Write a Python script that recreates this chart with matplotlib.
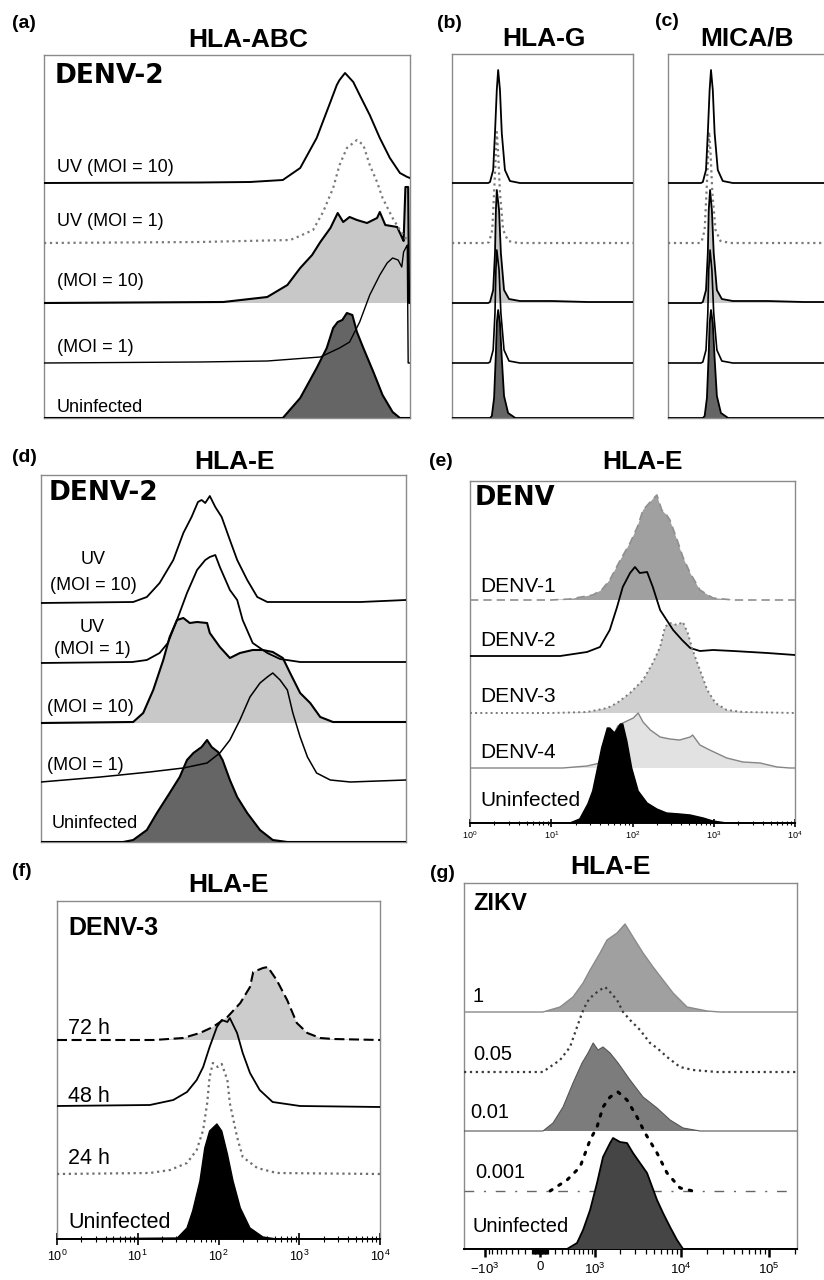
import numpy as np
import matplotlib
matplotlib.use("Agg")
import matplotlib.pyplot as plt
from matplotlib.ticker import (LogLocator, LogFormatterSciNotation, NullFormatter,
                               FixedLocator, FixedFormatter, NullLocator)

# ======================= DATA =======================
# x = log10 fluorescence intensity, h = normalised cell counts (arbitrary units)

# (a) HLA-ABC, DENV-2
a_uninf_x = [0, 2.61, 2.80, 2.98, 3.09, 3.16, 3.21, 3.26, 3.31, 3.37, 3.42, 3.49, 3.60, 3.70, 3.81, 3.89, 4.0]
a_uninf_h = [0, 0, 20, 50, 70, 90, 96, 98, 105, 103, 86, 70, 46, 23, 6, 0, 0]
a_moi1_x = [0, 1.70, 2.44, 3.02, 3.23, 3.34, 3.45, 3.56, 3.67, 3.75, 3.81, 3.87, 3.91, 3.93, 3.97, 3.98, 4.0]
a_moi1_h = [0, 1, 2, 6, 15, 21, 41, 68, 88, 100, 105, 103, 96, 111, 118, 0, 0]
a_moi10_x = [0, 1.96, 2.44, 2.66, 2.80, 2.93, 3.02, 3.13, 3.21, 3.27, 3.34, 3.42, 3.53, 3.64, 3.67, 3.73, 3.86, 3.91, 3.93, 3.95, 3.98, 3.99, 4.0]
a_moi10_h = [0, 1, 6, 18, 35, 48, 61, 75, 90, 81, 86, 83, 80, 85, 91, 78, 76, 66, 62, 116, 116, 0, 0]
a_uv1_x = [0, 1.70, 2.69, 2.77, 2.94, 3.05, 3.16, 3.23, 3.31, 3.42, 3.49, 3.56, 3.64, 3.70, 3.81, 3.89, 3.95, 4.0]
a_uv1_h = [0, 1, 3, 6, 13, 31, 55, 78, 95, 103, 98, 78, 61, 45, 25, 13, 5, 3]
a_uv10_x = [0, 1.70, 2.25, 2.61, 2.80, 2.98, 3.13, 3.20, 3.23, 3.29, 3.38, 3.45, 3.56, 3.67, 3.78, 3.89, 3.97, 4.0]
a_uv10_h = [0, 0.5, 1, 3, 15, 45, 81, 98, 103, 110, 101, 88, 68, 45, 25, 10, 6, 5]
a_labels = ["Uninfected", "(MOI = 1)", "(MOI = 10)", "UV (MOI = 1)", "UV (MOI = 10)"]

# (b) HLA-G
b_uninf_x = [0, 0.84, 0.88, 0.93, 0.97, 0.99, 1.02, 1.06, 1.10, 1.15, 1.24, 1.40, 4.0]
b_uninf_h = [0, 0, 2, 20, 65, 95, 108, 95, 60, 22, 5, 0, 0]
b_moi1_x = [0, 0.80, 0.84, 0.91, 0.95, 0.97, 0.99, 1.04, 1.08, 1.15, 1.26, 1.50, 4.0]
b_moi1_h = [0, 0, 1, 13, 50, 93, 113, 93, 50, 13, 2, 0, 0]
b_moi10_x = [0, 0.80, 0.84, 0.91, 0.95, 0.97, 0.99, 1.04, 1.08, 1.15, 1.26, 1.50, 2.2, 3.0, 4.0]
b_moi10_h = [0, 0, 1, 13, 50, 93, 113, 93, 50, 13, 4, 2, 2, 1, 1]
b_uv1_x = [0, 0.78, 0.82, 0.89, 0.93, 0.97, 0.99, 1.02, 1.06, 1.13, 1.24, 1.46, 4.0]
b_uv1_h = [0, 0, 1, 13, 50, 90, 111, 90, 50, 13, 2, 0, 0]
b_uv10_x = [0, 0.80, 0.84, 0.91, 0.95, 0.99, 1.02, 1.06, 1.10, 1.17, 1.28, 1.50, 4.0]
b_uv10_h = [0, 0, 1, 13, 50, 93, 113, 93, 50, 13, 2, 0, 0]

# (c) MICA/B
c_uninf_x = [0, 0.77, 0.81, 0.86, 0.90, 0.92, 0.95, 0.99, 1.03, 1.08, 1.17, 1.33, 4.0]
c_uninf_h = [0, 0, 2, 20, 65, 95, 108, 95, 60, 22, 5, 0, 0]
c_moi1_x = [0, 0.73, 0.77, 0.84, 0.88, 0.90, 0.93, 0.97, 1.01, 1.08, 1.19, 1.43, 4.0]
c_moi1_h = [0, 0, 1, 13, 50, 93, 113, 93, 50, 13, 2, 0, 0]
c_moi10_x = [0, 0.73, 0.77, 0.84, 0.88, 0.90, 0.93, 0.97, 1.01, 1.08, 1.19, 1.43, 2.2, 3.0, 4.0]
c_moi10_h = [0, 0, 1, 13, 50, 93, 113, 93, 50, 13, 4, 2, 2, 1, 1]
c_uv1_x = [0, 0.70, 0.74, 0.81, 0.85, 0.89, 0.91, 0.94, 0.98, 1.05, 1.16, 1.38, 4.0]
c_uv1_h = [0, 0, 1, 13, 50, 90, 111, 90, 50, 13, 2, 0, 0]
c_uv10_x = [0, 0.73, 0.77, 0.84, 0.88, 0.92, 0.95, 0.99, 1.03, 1.10, 1.21, 1.43, 4.0]
c_uv10_h = [0, 0, 1, 13, 50, 93, 113, 93, 50, 13, 2, 0, 0]

# (d) HLA-E, DENV-2
d_uninf_x = [0, 0.9, 1.01, 1.16, 1.27, 1.41, 1.52, 1.60, 1.67, 1.76, 1.82, 1.87, 1.94, 1.99, 2.07, 2.15, 2.26, 2.40, 2.54, 2.7, 4.0]
d_uninf_h = [0, 0, 2, 12, 29, 49, 65, 82, 89, 95, 102, 95, 90, 82, 62, 45, 29, 12, 2, 0, 0]
d_moi1_x = [0, 0.65, 1.19, 1.56, 1.82, 1.96, 2.07, 2.18, 2.29, 2.40, 2.48, 2.54, 2.62, 2.70, 2.76, 2.84, 2.92, 3.02, 3.17, 3.39, 4.0]
d_moi1_h = [0, 5, 10, 14, 19, 29, 42, 62, 85, 99, 105, 109, 102, 92, 69, 45, 25, 9, 2, 0, 2]
d_moi10_x = [0, 1.01, 1.12, 1.23, 1.34, 1.41, 1.49, 1.56, 1.63, 1.71, 1.82, 1.85, 1.96, 2.07, 2.18, 2.32, 2.43, 2.54, 2.65, 2.73, 2.84, 2.95, 3.06, 3.20, 4.0]
d_moi10_h = [0, 1, 10, 33, 63, 86, 103, 105, 100, 101, 100, 90, 76, 65, 70, 73, 73, 71, 65, 50, 30, 20, 6, 1, 1]
d_uv1_x = [0, 1.0, 1.16, 1.30, 1.39, 1.49, 1.60, 1.71, 1.80, 1.85, 1.91, 1.96, 2.07, 2.15, 2.21, 2.32, 2.48, 2.62, 2.84, 4.0]
d_uv1_h = [0, 1, 3, 10, 20, 43, 70, 93, 103, 106, 108, 96, 73, 63, 43, 20, 10, 4, 1, 1]
d_uv10_x = [0, 1.01, 1.16, 1.30, 1.45, 1.56, 1.65, 1.72, 1.76, 1.80, 1.85, 1.91, 1.98, 2.07, 2.15, 2.26, 2.37, 2.48, 3.5, 4.0]
d_uv10_h = [0, 1, 6, 20, 43, 70, 86, 101, 103, 100, 107, 96, 86, 63, 43, 23, 6, 1, 1, 3]

# (e) HLA-E, DENV serotypes
e_uninf_x = [0, 1.23, 1.35, 1.45, 1.51, 1.58, 1.62, 1.69, 1.72, 1.78, 1.85, 1.88, 1.93, 1.99, 2.07, 2.18, 2.30, 2.42, 2.58, 2.71, 2.87, 2.99, 3.16, 4.0]
e_uninf_h = [0, 0, 4, 19, 32, 59, 75, 95, 95, 90, 99, 99, 82, 55, 32, 20, 14, 10, 9, 8, 5, 2, 0, 0]
e_d4_x = [0, 1.14, 1.44, 1.60, 1.72, 1.82, 1.88, 2.01, 2.07, 2.13, 2.22, 2.34, 2.46, 2.58, 2.71, 2.74, 2.83, 2.95, 3.16, 3.36, 3.57, 3.78, 3.94, 4.0]
e_d4_h = [0, 0, 2, 5, 25, 42, 45, 50, 55, 46, 38, 31, 29, 28, 31, 33, 23, 18, 10, 6, 5, 1, 0, 0]
e_d3_x = [0, 1.0, 1.44, 1.69, 1.81, 1.97, 2.13, 2.25, 2.34, 2.40, 2.46, 2.55, 2.62, 2.68, 2.74, 2.83, 2.92, 3.02, 3.16, 3.36, 4.0]
e_d3_h = [0, 0, 1, 5, 10, 20, 33, 50, 66, 86, 90, 88, 91, 80, 63, 43, 23, 10, 3, 1, 0]
e_d2_x = [0, 1.11, 1.44, 1.60, 1.72, 1.81, 1.88, 1.97, 2.03, 2.09, 2.18, 2.25, 2.34, 2.42, 2.50, 2.61, 2.71, 2.83, 2.99, 3.24, 3.66, 4.0]
e_d2_h = [0, 0, 4, 9, 26, 49, 69, 83, 89, 83, 84, 69, 46, 36, 26, 16, 8, 5, 6, 5, 3, 1]
e_d1_x = [0, 1.0, 1.23, 1.51, 1.62, 1.72, 1.85, 1.97, 2.06, 2.13, 2.24, 2.30, 2.36, 2.42, 2.46, 2.55, 2.62, 2.71, 2.83, 2.99, 3.24, 4.0]
e_d1_h = [0, 0, 1, 5, 10, 20, 40, 57, 73, 90, 100, 105, 90, 85, 80, 60, 43, 27, 10, 2, 0, 0]
e_labels = ["Uninfected", "DENV-4", "DENV-3", "DENV-2", "DENV-1"]

# (f) HLA-E, DENV-3 time course
f_uninf_x = [0, 1.49, 1.61, 1.68, 1.77, 1.83, 1.89, 1.98, 2.04, 2.11, 2.18, 2.27, 2.39, 2.55, 2.72, 4.0]
f_uninf_h = [0, 1, 11, 28, 58, 91, 108, 115, 108, 85, 58, 31, 11, 2, 0, 0]
f_24_x = [0, 1.15, 1.40, 1.61, 1.73, 1.81, 1.86, 1.89, 1.93, 1.99, 2.04, 2.11, 2.14, 2.23, 2.30, 2.48, 2.72, 4.0]
f_24_h = [0, 1, 4, 11, 24, 44, 71, 97, 111, 107, 110, 94, 71, 37, 17, 6, 1, 0]
f_48_x = [0, 1.15, 1.44, 1.61, 1.73, 1.81, 1.89, 1.98, 2.04, 2.11, 2.14, 2.23, 2.30, 2.39, 2.51, 2.67, 3.01, 4.0]
f_48_h = [1, 2, 7, 15, 27, 40, 60, 80, 87, 85, 89, 74, 54, 34, 17, 5, 1, 0]
f_72_x = [0, 1.2, 1.56, 1.77, 1.93, 2.11, 2.27, 2.39, 2.43, 2.55, 2.61, 2.72, 2.85, 2.97, 3.10, 3.26, 3.42, 4.0]
f_72_h = [0, 0, 2, 7, 13, 23, 37, 53, 68, 72, 73, 60, 40, 17, 7, 2, 1, 0]
f_labels = ["Uninfected", "24 h", "48 h", "72 h"]

# (g) HLA-E, ZIKV MOI series ; x = fluorescence (biexponential display)
g_xmin, g_xmax = -1800, 208600
g_uninf_x = [385, 565, 692, 862, 1058, 1256, 1528, 1658, 2005, 2418, 2838, 3417, 4111, 5347, 6260, 7526, 9041, 10580]
g_uninf_h = [0, 6, 19, 39, 66, 92, 106, 111, 107, 106, 96, 86, 76, 49, 36, 22, 9, 0]
g_0001_x = [133, 385, 627, 862, 1058, 1256, 1528, 1900, 2418, 3155, 3900, 5347, 6954, 9777, 13740]
g_0001_h = [0, 11, 24, 51, 64, 84, 94, 99, 91, 74, 58, 38, 18, 3, 0]
g_001_x = [39, 174, 321, 489, 670, 810, 945, 1090, 1256, 1528, 1900, 2621, 3700, 5347, 7526, 10580, 16520]
g_001_h = [0, 8, 24, 48, 68, 78, 88, 81, 84, 78, 68, 51, 34, 23, 11, 3, 0]
g_005_x = [39, 92, 275, 436, 565, 670, 785, 945, 1154, 1329, 1528, 1849, 2174, 2621, 3417, 4448, 5347, 6954, 9777, 13740, 25750]
g_005_h = [0, 3, 12, 25, 45, 59, 70, 77, 82, 85, 80, 72, 60, 52, 42, 29, 24, 15, 5, 2, 0]
g_1_x = [39, 275, 489, 692, 862, 1154, 1405, 1849, 2293, 2838, 3700, 4816, 6260, 8141, 11750, 19840, 27860]
g_1_h = [0, 5, 15, 29, 42, 59, 72, 79, 88, 75, 59, 45, 32, 19, 5, 1, 0]
g_labels = ["Uninfected", "0.001", "0.01", "0.05", "1"]
g_major = [-1000, 0, 1000, 10000, 100000]
g_tick_labels = [r"$-10^{3}$", "0", r"$10^{3}$", r"$10^{4}$", r"$10^{5}$"]

# ======================= FIGURE =======================
plt.rcParams['font.family'] = ['Liberation Sans', 'DejaVu Sans']
plt.rcParams['mathtext.fontset'] = 'custom'
plt.rcParams['mathtext.rm'] = 'Liberation Sans'
plt.rcParams['mathtext.it'] = 'Liberation Sans:italic'
plt.rcParams['mathtext.bf'] = 'Liberation Sans:bold'

W, H = 824, 1280
fig = plt.figure(figsize=(W / 100, H / 100), dpi=100)
fig.patch.set_facecolor('white')
SANS = ['Liberation Sans', 'DejaVu Sans']
VERD = ['DejaVu Sans']


def make_ax(l, t, r, b, log=True):
    ax = fig.add_axes([l / W, 1 - b / H, (r - l) / W, (b - t) / H])
    ax.set_ylim(0, b - t)
    if log:
        ax.set_xscale('log')
        ax.set_xlim(1, 1e4)
    for s in ax.spines.values():
        s.set_color('#8a8a8a')
        s.set_linewidth(1.0)
    ax.tick_params(which='both', left=False, labelleft=False, bottom=False, labelbottom=False)
    ax.yaxis.set_major_locator(NullLocator())
    return ax


def lin10(v):
    return 10 ** np.asarray(v, float)


def curve(ax, x, h, off, fill=None, color='k', ls='-', lw=1.4, top=False, xf=lin10, **kw):
    xv = xf(x)
    yv = off + np.asarray(h, float)
    if fill is not None:
        ax.fill_between(xv, off, yv, facecolor=fill, edgecolor='none', lw=0, zorder=6 if top else 2)
    if color is not None:
        ax.plot(xv, yv, color=color, ls=ls, lw=lw, zorder=7 if top else 4, **kw)


def ftext(x, y, s, size, weight='normal', ha='left', family=SANS):
    fig.text(x / W, 1 - y / H, s, fontsize=size, fontweight=weight, ha=ha, va='center',
             family=family, zorder=20)


def log_ticks(ax, size, length, pad):
    ax.tick_params(axis='x', which='both', bottom=True, labelbottom=True, direction='inout', colors='black')
    ax.xaxis.set_major_locator(LogLocator(base=10, numticks=10))
    ax.xaxis.set_major_formatter(LogFormatterSciNotation())
    ax.xaxis.set_minor_locator(LogLocator(base=10, subs=np.arange(2, 10), numticks=10))
    ax.xaxis.set_minor_formatter(NullFormatter())
    ax.tick_params(axis='x', which='major', length=length, width=1.2, labelsize=size, pad=pad)
    ax.tick_params(axis='x', which='minor', length=length * 0.55, width=0.8)
    ax.spines['bottom'].set_color('black')
    ax.spines['bottom'].set_linewidth(1.4)


DARK = '#656565'
LIGHT = '#c8c8c8'
TSIZE = 19

# ---- (a) ----
ax = make_ax(44, 55, 410, 418)
off = [0, 55, 115, 175, 235]
curve(ax, a_uninf_x, a_uninf_h, off[0], fill=DARK, lw=1.5)
curve(ax, a_moi1_x, a_moi1_h, off[1], lw=1.0)
curve(ax, a_moi10_x, a_moi10_h, off[2], fill=LIGHT, lw=1.5)
curve(ax, a_uv1_x, a_uv1_h, off[3], color='#7a7a7a', ls=':', lw=1.6)
curve(ax, a_uv10_x, a_uv10_h, off[4], lw=1.4)
for lab, yy in zip(a_labels, [407, 347, 282, 222, 167]):
    ftext(57, yy, lab, 13)
ftext(55, 76, "DENV-2", 19, 'bold', family=VERD)
ftext(248, 40, "HLA-ABC", TSIZE, 'bold', ha='center')
ftext(24, 24, "(a)", 14, 'bold', ha='center')

# ---- (b) and (c) ----
for (l, r, letter, lx, ly, title, tx, data) in [
        (452, 633, "(b)", 449, 24, "HLA-G", 544,
         [(b_uninf_x, b_uninf_h), (b_moi1_x, b_moi1_h), (b_moi10_x, b_moi10_h), (b_uv1_x, b_uv1_h), (b_uv10_x, b_uv10_h)]),
        (668, 849, "(c)", 667, 21, "MICA/B", 747,
         [(c_uninf_x, c_uninf_h), (c_moi1_x, c_moi1_h), (c_moi10_x, c_moi10_h), (c_uv1_x, c_uv1_h), (c_uv10_x, c_uv10_h)])]:
    ax = make_ax(l, 54, r, 418)
    off = [0, 55, 115, 175, 235]
    curve(ax, *data[0], off[0], fill=DARK, lw=1.3)
    curve(ax, *data[1], off[1], lw=1.2)
    curve(ax, *data[2], off[2], fill=LIGHT, lw=1.3)
    curve(ax, *data[3], off[3], color='#7a7a7a', ls=':', lw=1.6)
    curve(ax, *data[4], off[4], lw=1.3)
    ftext(tx, 39, title, TSIZE, 'bold', ha='center')
    ftext(lx, ly, letter, 14, 'bold', ha='center')

# ---- (d) ----
ax = make_ax(41, 475, 406, 842)
off = [0, 60, 119, 179, 239]
curve(ax, d_uninf_x, d_uninf_h, off[0], fill=DARK, lw=1.5)
curve(ax, d_moi1_x, d_moi1_h, off[1], lw=1.1)
curve(ax, d_moi10_x, d_moi10_h, off[2], fill=LIGHT, lw=1.5)
curve(ax, d_uv1_x, d_uv1_h, off[3], lw=1.3)
curve(ax, d_uv10_x, d_uv10_h, off[4], lw=1.3)
ftext(52, 824, "Uninfected", 13)
ftext(47, 765, "(MOI = 1)", 13)
ftext(47, 707, "(MOI = 10)", 13)
ftext(92, 627, "UV", 13, ha='center')
ftext(92, 650, "(MOI = 1)", 13, ha='center')
ftext(93, 560, "UV", 13, ha='center')
ftext(93, 585, "(MOI = 10)", 13, ha='center')
ftext(49, 493, "DENV-2", 19, 'bold', family=VERD)
ftext(235, 462, "HLA-E", TSIZE, 'bold', ha='center')
ftext(24, 457, "(d)", 14, 'bold', ha='center')

# ---- (e) ----
ax = make_ax(470, 481, 795, 823)
off = [0, 55, 110, 167, 223]
curve(ax, e_d1_x, e_d1_h, off[4], fill='#a0a0a0', color='#8f8f8f', ls=(0, (5, 3)), lw=1.2)
curve(ax, e_d2_x, e_d2_h, off[3], lw=1.3)
curve(ax, e_d3_x, e_d3_h, off[2], fill='#d0d0d0', color='#7a7a7a', ls=':', lw=1.4)
curve(ax, e_d4_x, e_d4_h, off[1], fill='#e2e2e2', color='#858585', lw=1.0)
curve(ax, e_uninf_x, e_uninf_h, off[0], fill='black', lw=1.0, top=True)
log_ticks(ax, 6.5, 6, 1.5)
for lab, yy in zip(e_labels, [800, 752, 697, 640, 586]):
    ftext(480, yy, lab, 15)
ftext(475, 498, "DENV", 18.5, 'bold', family=VERD)
ftext(642, 462, "HLA-E", TSIZE, 'bold', ha='center')
ftext(441, 461, "(e)", 14, 'bold', ha='center')

# ---- (f) ----
ax = make_ax(57, 901, 380, 1239)
off = [0, 65, 132, 199]
curve(ax, f_72_x, f_72_h, off[3], fill='#cccccc', color='black', ls=(0, (4.8, 2.2)), lw=1.5)
curve(ax, f_48_x, f_48_h, off[2], lw=1.3)
curve(ax, f_24_x, f_24_h, off[1], color='#6e6e6e', ls=':', lw=1.6)
curve(ax, f_uninf_x, f_uninf_h, off[0], fill='black', lw=1.0, top=True)
log_ticks(ax, 9, 8, 3)
for lab, yy in zip(f_labels, [1223, 1158, 1097, 1028]):
    ftext(68, yy, lab, 15.5)
ftext(68, 928, "DENV-3", 18, 'bold')
ftext(229, 885, "HLA-E", TSIZE, 'bold', ha='center')
ftext(22, 872, "(f)", 14, 'bold', ha='center')

# ---- (g) ----
G_C = 502.0


def g_fwd(v):
    return np.arcsinh(np.asarray(v, float) / G_C) / np.log(10)


def g_inv(d):
    return G_C * np.sinh(np.asarray(d, float) * np.log(10))


def g_full(x):
    return np.concatenate([[g_xmin], np.asarray(x, float), [g_xmax]])


ax = make_ax(464, 883, 797, 1249, log=False)
ax.set_xscale('function', functions=(g_fwd, g_inv))
ax.set_xlim(g_xmin, g_xmax)
off = [0, 58, 118, 177, 237]
ident = lambda v: np.asarray(v, float)
curve(ax, g_full(g_1_x), [0] + g_1_h + [0], off[4], fill='#a0a0a0', color='#8a8a8a', lw=1.0, xf=ident)
curve(ax, g_full(g_005_x), [0] + g_005_h + [0], off[3], color='#3a3a3a', ls=':', lw=1.6, xf=ident)
curve(ax, g_full(g_001_x), [0] + g_001_h + [0], off[2], fill='#7c7c7c', color='#555555', lw=0.8, xf=ident)
ax.axhline(off[1], xmin=0, xmax=0.97, color='#666666', ls=(0, (7, 7, 1.5, 7)), lw=1.0, zorder=3)
curve(ax, g_0001_x, g_0001_h, off[1], color='black', ls=(0, (0.8, 2.6)), lw=2.2, xf=ident,
      dash_capstyle='round')
curve(ax, g_full(g_uninf_x), [0] + g_uninf_h + [0], off[0], fill='#454545', color='black', lw=1.3,
      top=True, xf=ident)
g_minor = [s * m * 10 ** k for k in range(1, 6) for m in range(1, 10) for s in (1, -1)
           if m * 10 ** k not in (1000, 10000, 100000) and g_xmin < s * m * 10 ** k < g_xmax]
ax.xaxis.set_major_locator(FixedLocator(g_major))
ax.xaxis.set_major_formatter(FixedFormatter(g_tick_labels))
ax.xaxis.set_minor_locator(FixedLocator(g_minor))
ax.xaxis.set_minor_formatter(NullFormatter())
ax.tick_params(axis='x', which='both', bottom=True, labelbottom=True, direction='out', colors='black')
ax.tick_params(axis='x', which='major', length=6, width=1.8, labelsize=9.5, pad=3)
ax.tick_params(axis='x', which='minor', length=3.5, width=0.9)
ax.spines['bottom'].set_color('black')
ax.spines['bottom'].set_linewidth(1.4)
for lab, (xx, yy) in zip(g_labels, [(472, 1227), (475, 1172), (470, 1113), (473, 1055), (473, 997)]):
    ftext(xx, yy, lab, 14.5)
ftext(473, 903, "ZIKV", 17, 'bold')
ftext(611, 867, "HLA-E", TSIZE, 'bold', ha='center')
ftext(442, 874, "(g)", 14, 'bold', ha='center')

fig.savefig("out.png", dpi=100, facecolor='white')
